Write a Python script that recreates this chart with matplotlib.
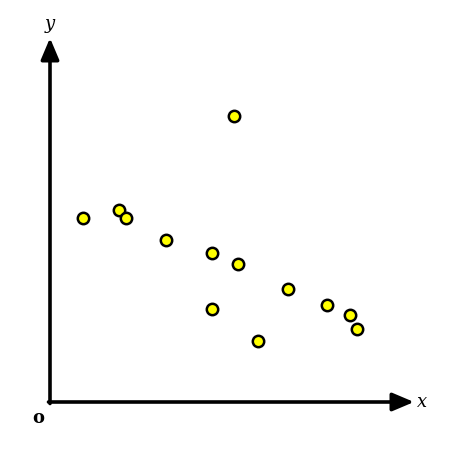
import matplotlib
matplotlib.use("Agg")
import matplotlib.pyplot as plt

# data values (origin at the axis corner)
x_vals = [33, 69, 76, 116, 162, 162, 184, 188, 208, 238, 277, 300, 307]
y_vals = [184, 192, 184, 162, 149, 93, 286, 138, 61, 113, 97, 87, 73]

W, H = 453, 450
fig = plt.figure(figsize=(W / 100, H / 100), dpi=100)
ax = fig.add_axes([0, 0, 1, 1])
ax.set_xlim(-50, W - 50)
ax.set_ylim(-(H - 402), 402)
ax.axis("off")

head = "-|>,head_length=1.3,head_width=0.55"
ax.annotate("", xy=(364, 0), xytext=(-1.5, 0),
            arrowprops=dict(arrowstyle=head, lw=2.6, color="black",
                            shrinkA=0, shrinkB=0))
ax.annotate("", xy=(0, 364), xytext=(0, -1.5),
            arrowprops=dict(arrowstyle=head, lw=2.6, color="black",
                            shrinkA=0, shrinkB=0))

ax.text(372, 0, "x", fontsize=13, fontstyle="italic", family="DejaVu Serif",
        ha="center", va="center")
ax.text(0, 378, "y", fontsize=13, fontstyle="italic", family="DejaVu Serif",
        ha="center", va="center")
ax.text(-12, -16, "o", fontsize=13, fontweight="bold", family="DejaVu Serif",
        ha="center", va="center")

ax.plot(x_vals, y_vals, linestyle="none", marker="o", markersize=8.2,
        markerfacecolor="#ffff00", markeredgecolor="black", markeredgewidth=1.8,
        zorder=3)

fig.savefig("out.png", dpi=100)
